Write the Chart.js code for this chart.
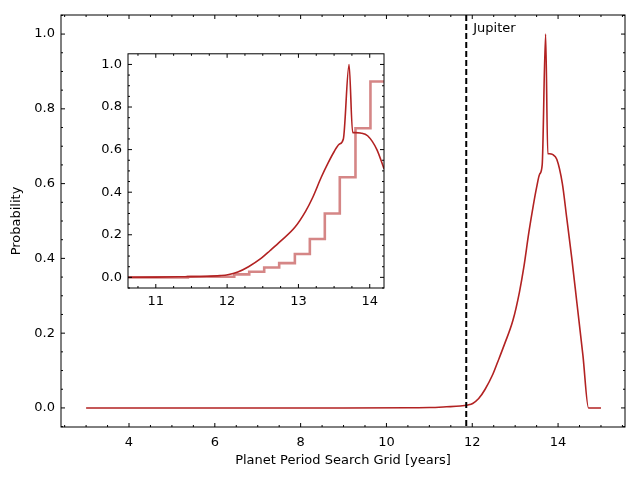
<!DOCTYPE html>
<html>
<head>
<meta charset="utf-8">
<script src="https://cdn.jsdelivr.net/npm/chart.js@4"></script>
<style>
  body { margin: 0; background: #fff; }
  #wrap { position: relative; width: 640px; height: 480px; }
  #main { position: absolute; left: 0; top: 0; }
  #inset { position: absolute; left: 88px; top: 40px; }
</style>
</head>
<body>
<div id="wrap">
  <canvas id="main" width="640" height="480"></canvas>
  <canvas id="inset" width="300" height="270"></canvas>
</div>
<script>
// probability curve
const periodX = [3.0, 6.0, 9.0, 10.5, 11.0, 11.4, 11.72, 11.9, 12.01, 12.15, 12.3, 12.48, 12.6, 12.75, 12.95, 13.1, 13.2, 13.32, 13.42, 13.5, 13.57, 13.63, 13.71, 13.76, 13.8, 13.87, 13.97, 14.1, 14.2, 14.32, 14.44, 14.58, 14.71, 15.0];
const probY = [0, 0, 0, 0.0005, 0.001, 0.003, 0.005, 0.008, 0.012, 0.025, 0.05, 0.09, 0.125, 0.17, 0.235, 0.31, 0.375, 0.47, 0.54, 0.59, 0.625, 0.65, 1.0, 0.68, 0.68, 0.678, 0.665, 0.6, 0.51, 0.4, 0.28, 0.14, 0.0, 0.0];
// step histogram (inset)
const stepX = [10.6, 11.45, 12.1, 12.31, 12.52, 12.73, 12.95, 13.16, 13.37, 13.58, 13.8, 14.01, 14.2];
const stepY = [0.0, 0.003, 0.014, 0.026, 0.046, 0.067, 0.11, 0.18, 0.30, 0.47, 0.70, 0.92, 0.92];
const jupiterPeriod = 11.86;
const mainXTicks = [4, 6, 8, 10, 12, 14];
const yTicks = [0.0, 0.2, 0.4, 0.6, 0.8, 1.0];
const insetXTicks = [11, 12, 13, 14];

Chart.defaults.font.family = "DejaVu Sans";
Chart.defaults.font.size = 13;
Chart.defaults.color = "#000";
Chart.defaults.animation = false;

const pts = (xs, ys) => xs.map((x, i) => ({ x: x, y: ys[i] }));

// inward ticks like matplotlib, with minor ticks
function inTicks(minorX, minorY) {
  return {
    id: "inTicks",
    afterDraw(chart) {
      const { ctx, chartArea: a, scales: { x, y } } = chart;
      ctx.save();
      ctx.strokeStyle = "#000";
      ctx.lineWidth = 1;
      ctx.strokeRect(a.left, a.top, a.right - a.left, a.bottom - a.top);
      const tick = (px, len, vert) => {
        ctx.beginPath();
        if (vert) { ctx.moveTo(px, a.bottom); ctx.lineTo(px, a.bottom - len); ctx.moveTo(px, a.top); ctx.lineTo(px, a.top + len); }
        else { ctx.moveTo(a.left, px); ctx.lineTo(a.left + len, px); ctx.moveTo(a.right, px); ctx.lineTo(a.right - len, px); }
        ctx.stroke();
      };
      for (let v = Math.ceil(x.min / minorX) * minorX; v <= x.max; v += minorX) {
        const major = x.ticks.some(t => Math.abs(t.value - v) < 1e-6);
        tick(x.getPixelForValue(v), major ? 4 : 2, true);
      }
      for (let v = Math.ceil(y.min / minorY) * minorY; v <= y.max; v += minorY) {
        const major = y.ticks.some(t => Math.abs(t.value - v) < 1e-6);
        tick(y.getPixelForValue(v), major ? 4 : 2, false);
      }
      ctx.restore();
    }
  };
}

const jupiterLine = {
  id: "jupiter",
  afterDatasetsDraw(chart) {
    const { ctx, chartArea: a, scales: { x } } = chart;
    const px = x.getPixelForValue(jupiterPeriod);
    ctx.save();
    ctx.strokeStyle = "#000";
    ctx.lineWidth = 2;
    ctx.setLineDash([6, 3]);
    ctx.beginPath();
    ctx.moveTo(px, a.top);
    ctx.lineTo(px, a.bottom);
    ctx.stroke();
    ctx.setLineDash([]);
    ctx.fillStyle = "#000";
    ctx.font = "13px DejaVu Sans";
    ctx.textBaseline = "top";
    ctx.fillText("Jupiter", px + 7, a.top + 7);
    ctx.restore();
  }
};

const whiteBg = {
  id: "whiteBg",
  beforeDraw(chart) {
    const { ctx, chartArea: a } = chart;
    ctx.save();
    ctx.fillStyle = "#fff";
    ctx.fillRect(a.left, a.top, a.right - a.left, a.bottom - a.top);
    ctx.restore();
  }
};

const fixedTicks = (vals) => (scale) => { scale.ticks = vals.map(v => ({ value: v })); };
const oneDec = v => Number(v).toFixed(1);

new Chart(document.getElementById("main"), {
  type: "line",
  data: {
    datasets: [{
      data: pts(periodX, probY),
      borderColor: "#b22222",
      borderWidth: 1.6,
      pointRadius: 0,
      cubicInterpolationMode: "monotone"
    }]
  },
  options: {
    responsive: false,
    layout: { padding: { top: 15, right: 15, bottom: 12, left: 9 } },
    plugins: { legend: { display: false }, tooltip: { enabled: false } },
    scales: {
      x: {
        type: "linear", min: 2.415, max: 15.56,
        afterBuildTicks: fixedTicks(mainXTicks),
        afterFit: s => { s.height = 41; },
        grid: { display: false, drawTicks: false },
        border: { display: false },
        ticks: { padding: 8, callback: v => String(v) },
        title: { display: true, text: "Planet Period Search Grid [years]", padding: { top: 2, bottom: 0 } }
      },
      y: {
        min: -0.051, max: 1.051,
        afterBuildTicks: fixedTicks(yTicks),
        afterFit: s => { s.width = 52; },
        grid: { display: false, drawTicks: false },
        border: { display: false },
        ticks: { padding: 6, callback: oneDec },
        title: { display: true, text: "Probability", padding: { bottom: 2, top: 0 } }
      }
    }
  },
  plugins: [inTicks(0.5, 0.05), jupiterLine]
});

new Chart(document.getElementById("inset"), {
  type: "line",
  data: {
    datasets: [{
      data: pts(stepX, stepY),
      borderColor: "rgba(178,34,34,0.55)",
      borderWidth: 2.6,
      pointRadius: 0,
      stepped: "before"
    }, {
      data: pts(periodX, probY),
      borderColor: "#b22222",
      borderWidth: 1.6,
      pointRadius: 0,
      cubicInterpolationMode: "monotone"
    }]
  },
  options: {
    responsive: false,
    layout: { padding: { top: 1, right: 4 } },
    plugins: { legend: { display: false }, tooltip: { enabled: false } },
    scales: {
      x: {
        type: "linear", min: 10.61, max: 14.2,
        afterBuildTicks: fixedTicks(insetXTicks),
        afterFit: s => { s.height = 22; },
        grid: { display: false, drawTicks: false },
        border: { display: false },
        ticks: { padding: 6, callback: v => String(v) }
      },
      y: {
        min: -0.05, max: 1.05,
        afterBuildTicks: fixedTicks(yTicks),
        afterFit: s => { s.width = 40; },
        grid: { display: false, drawTicks: false },
        border: { display: false },
        ticks: { padding: 6, callback: oneDec }
      }
    }
  },
  plugins: [whiteBg, inTicks(0.25, 0.05)]
});
</script>
</body>
</html>
